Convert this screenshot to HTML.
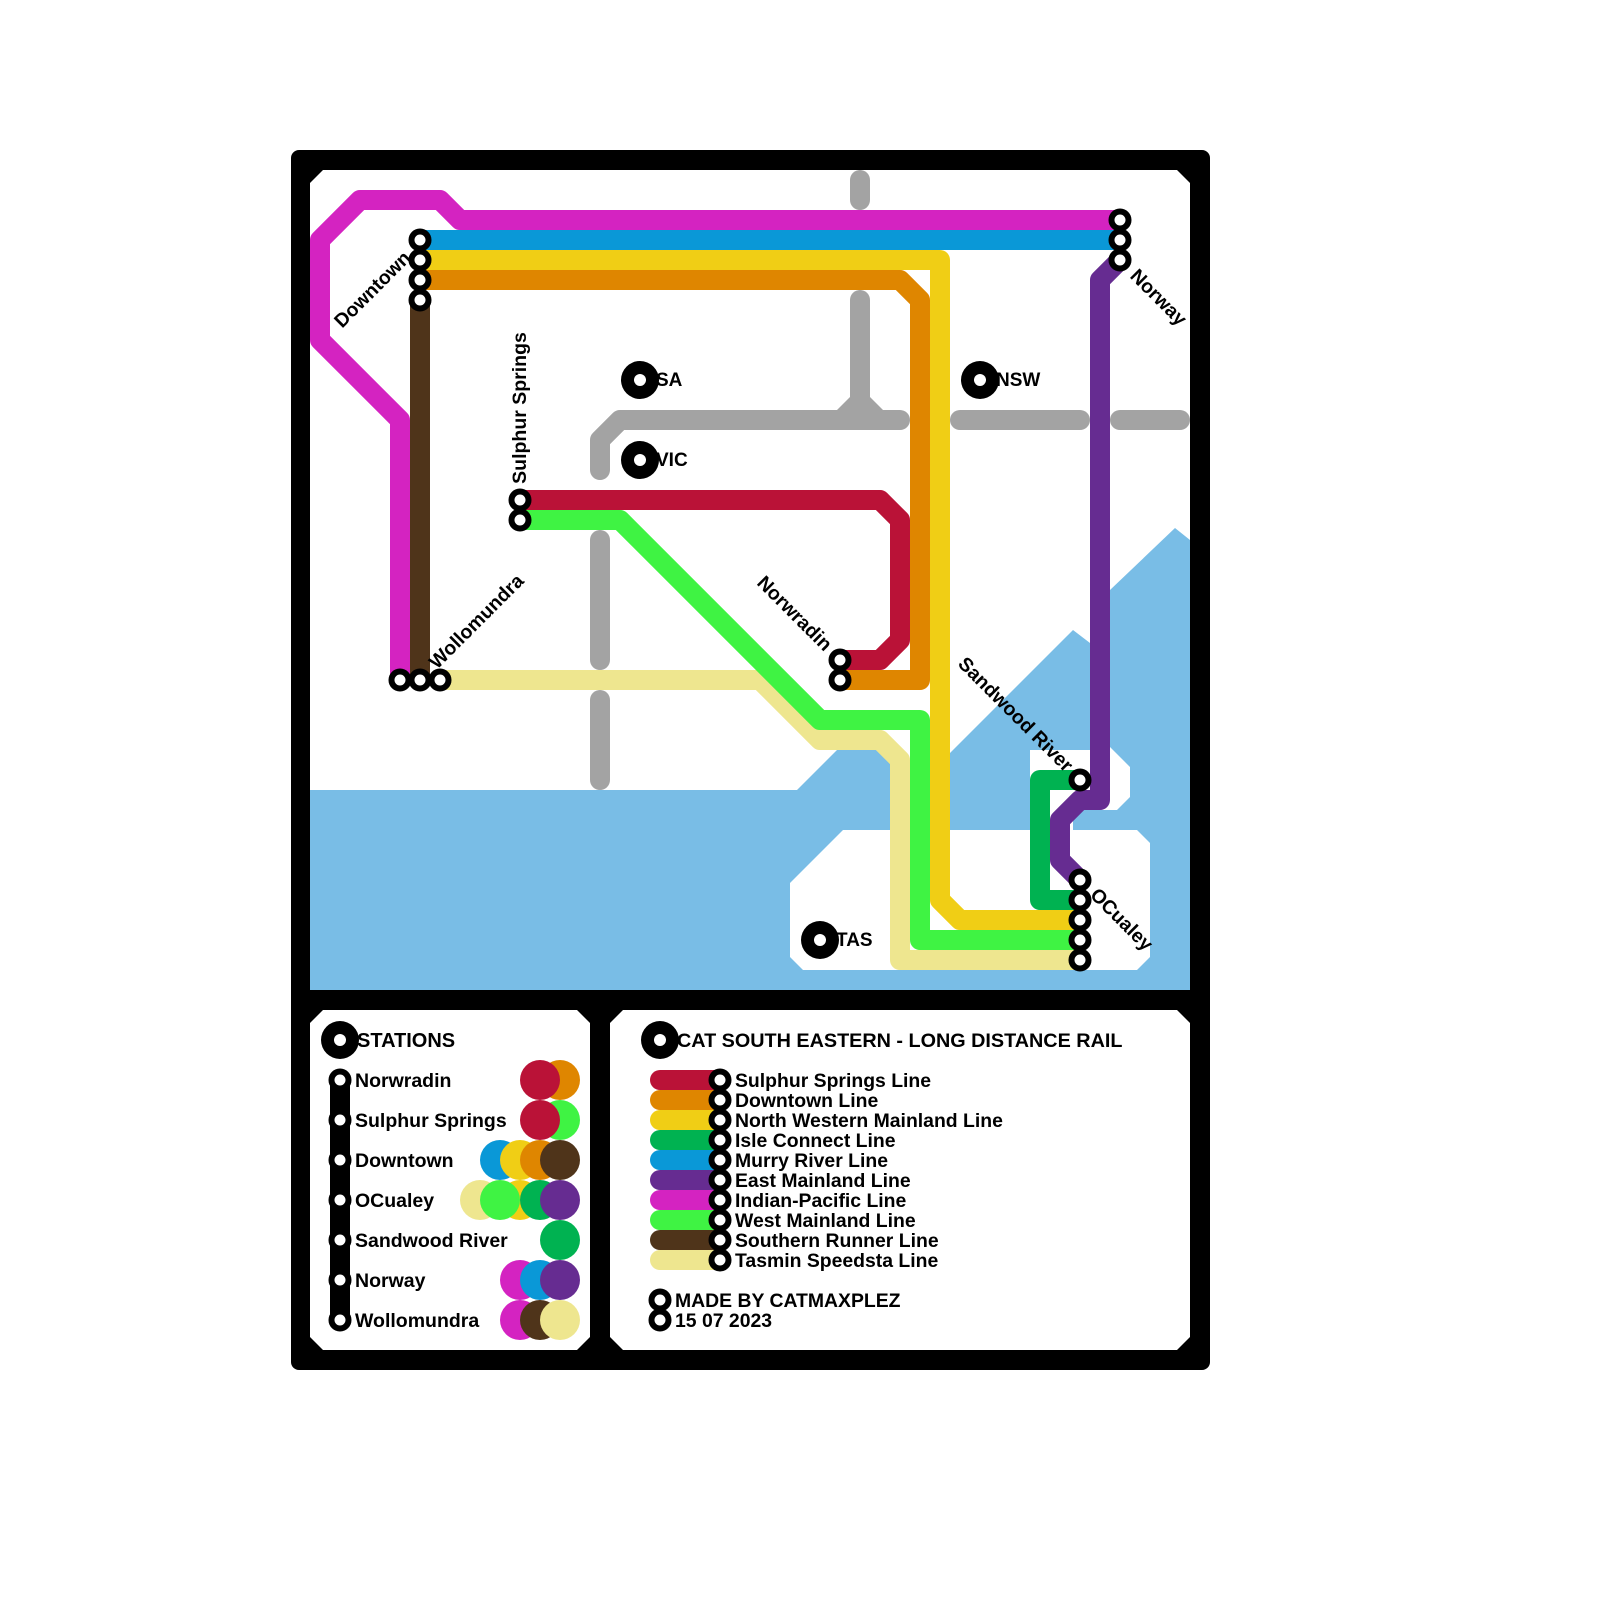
<!DOCTYPE html>
<html><head><meta charset="utf-8"><style>
html,body{margin:0;padding:0;background:#fff;}
svg{display:block}
text{font-family:"Liberation Sans",Arial,sans-serif;font-weight:bold;fill:#000}
</style></head><body>
<svg width="1600" height="1600" viewBox="0 0 1600 1600" xmlns="http://www.w3.org/2000/svg">
<rect x="291" y="150" width="919" height="1220" rx="8" fill="#000"/>
<polygon points="323,170 1177,170 1190,183 1190,990 310,990 310,183" fill="#fff"/>
<polygon points="323,1010 577,1010 590,1023 590,1337 577,1350 323,1350 310,1337 310,1023" fill="#fff"/>
<polygon points="623,1010 1177,1010 1190,1023 1190,1337 1177,1350 623,1350 610,1337 610,1023" fill="#fff"/>

<g fill="#79BDE6">
<polygon points="310,790 797,790 837,750 877,750 890,763 890,830 310,830"/>
<rect x="310" y="830" width="880" height="160"/>
<polygon points="950,830 950,753 1073,630 1090,643 1090,750 1030,750 1030,830"/>
<polygon points="1110,590 1175,528 1190,540 1190,830 1073,830 1073,810 1117,810 1130,797 1130,767 1110,747"/>
</g>
<polygon points="843,830 1137,830 1150,843 1150,957 1137,970 803,970 790,957 790,883" fill="#fff"/>

<g stroke="#A3A3A3" stroke-width="20" stroke-linecap="round" stroke-linejoin="round" fill="none">
<line x1="860" y1="180" x2="860" y2="200"/>
<line x1="860" y1="300" x2="860" y2="415"/>
<path d="M600,470 V440 L620,420 H900"/>
<line x1="960" y1="420" x2="1080" y2="420"/>
<line x1="1120" y1="420" x2="1180" y2="420"/>
<line x1="600" y1="540" x2="600" y2="660"/>
<line x1="600" y1="700" x2="600" y2="780"/>
</g>
<polygon points="837,410 850,397 870,397 883,410" fill="#A3A3A3"/>

<g stroke-width="20" stroke-linejoin="round" stroke-linecap="butt" fill="none">
<path d="M1120,220 H460 L440,200 H360 L320,240 V340 L400,420 V680" stroke="#D423C1"/>
<path d="M420,240 H1120" stroke="#0A98D7"/>
<path d="M420,260 H940 V900 L960,920 H1080" stroke="#F0CE15"/>
<path d="M420,280 H900 L920,300 V680 H840" stroke="#DF8600"/>
<path d="M420,300 V680" stroke="#4F341A"/>
<path d="M520,500 H880 L900,520 V640 L880,660 H840" stroke="#BA1237"/>
<path d="M440,680 H760 L820,740 H880 L900,760 V960 H1080" stroke="#EEE68F"/>
<path d="M520,520 H620 L820,720 H920 V940 H1080" stroke="#3FF343"/>
<path d="M1080,780 H1040 V900 H1080" stroke="#00B251"/>
<path d="M1120,260 L1100,280 V800 H1080 L1060,820 V860 L1080,880" stroke="#662C91"/>
</g>

<g fill="#fff" stroke="#000" stroke-width="6">
<circle cx="420" cy="240" r="8.5"/><circle cx="420" cy="260" r="8.5"/><circle cx="420" cy="280" r="8.5"/><circle cx="420" cy="300" r="8.5"/>
<circle cx="1120" cy="220" r="8.5"/><circle cx="1120" cy="240" r="8.5"/><circle cx="1120" cy="260" r="8.5"/>
<circle cx="520" cy="500" r="8.5"/><circle cx="520" cy="520" r="8.5"/>
<circle cx="400" cy="680" r="8.5"/><circle cx="420" cy="680" r="8.5"/><circle cx="440" cy="680" r="8.5"/>
<circle cx="840" cy="660" r="8.5"/><circle cx="840" cy="680" r="8.5"/>
<circle cx="1080" cy="780" r="8.5"/>
<circle cx="1080" cy="880" r="8.5"/><circle cx="1080" cy="900" r="8.5"/><circle cx="1080" cy="920" r="8.5"/><circle cx="1080" cy="940" r="8.5"/><circle cx="1080" cy="960" r="8.5"/>
</g>
<g fill="#000"><circle cx="640" cy="380" r="19"/><circle cx="640" cy="460" r="19"/><circle cx="980" cy="380" r="19"/><circle cx="820" cy="940" r="19"/></g>
<g fill="#fff"><circle cx="640" cy="380" r="6"/><circle cx="640" cy="460" r="6"/><circle cx="980" cy="380" r="6"/><circle cx="820" cy="940" r="6"/></g>
<g font-size="19">
<text x="656" y="386">SA</text><text x="656" y="466">VIC</text><text x="996" y="386">NSW</text><text x="836" y="946">TAS</text>
</g>
<g font-size="19.5" text-anchor="middle">
<text transform="translate(372,289) rotate(-45)" dy="7">Downtown</text>
<text transform="translate(519,408) rotate(-90)" dy="7">Sulphur Springs</text>
<text transform="translate(1159,297) rotate(45)" dy="7">Norway</text>
<text transform="translate(476,621) rotate(-45)" dy="7">Wollomundra</text>
<text transform="translate(795,613) rotate(45)" dy="7">Norwradin</text>
<text transform="translate(1016,714) rotate(45)" dy="7">Sandwood River</text>
<text transform="translate(1122,919) rotate(45)" dy="7">OCualey</text>
</g>

<circle cx="340" cy="1040" r="19" fill="#000"/><circle cx="340" cy="1040" r="6" fill="#fff"/>
<text x="357" y="1047" font-size="20">STATIONS</text>
<rect x="330" y="1080" width="20" height="240" fill="#000"/>
<g fill="#fff" stroke="#000" stroke-width="6">
<circle cx="340" cy="1080" r="8.5"/><circle cx="340" cy="1120" r="8.5"/><circle cx="340" cy="1160" r="8.5"/><circle cx="340" cy="1200" r="8.5"/><circle cx="340" cy="1240" r="8.5"/><circle cx="340" cy="1280" r="8.5"/><circle cx="340" cy="1320" r="8.5"/>
</g>
<g font-size="19.5">
<text x="355" y="1087">Norwradin</text>
<text x="355" y="1127">Sulphur Springs</text>
<text x="355" y="1167">Downtown</text>
<text x="355" y="1207">OCualey</text>
<text x="355" y="1247">Sandwood River</text>
<text x="355" y="1287">Norway</text>
<text x="355" y="1327">Wollomundra</text>
</g>
<g>
<circle cx="560" cy="1080" r="20" fill="#DF8600"/><circle cx="540" cy="1080" r="20" fill="#BA1237"/>
<circle cx="560" cy="1120" r="20" fill="#3FF343"/><circle cx="540" cy="1120" r="20" fill="#BA1237"/>
<circle cx="500" cy="1160" r="20" fill="#0A98D7"/><circle cx="520" cy="1160" r="20" fill="#F0CE15"/><circle cx="540" cy="1160" r="20" fill="#DF8600"/><circle cx="560" cy="1160" r="20" fill="#4F341A"/>
<circle cx="480" cy="1200" r="20" fill="#EEE68F"/><circle cx="520" cy="1200" r="20" fill="#F0CE15"/><circle cx="500" cy="1200" r="20" fill="#3FF343"/><circle cx="540" cy="1200" r="20" fill="#00B251"/><circle cx="560" cy="1200" r="20" fill="#662C91"/>
<circle cx="560" cy="1240" r="20" fill="#00B251"/>
<circle cx="520" cy="1280" r="20" fill="#D423C1"/><circle cx="540" cy="1280" r="20" fill="#0A98D7"/><circle cx="560" cy="1280" r="20" fill="#662C91"/>
<circle cx="520" cy="1320" r="20" fill="#D423C1"/><circle cx="540" cy="1320" r="20" fill="#4F341A"/><circle cx="560" cy="1320" r="20" fill="#EEE68F"/>
</g>

<circle cx="660" cy="1040" r="19" fill="#000"/><circle cx="660" cy="1040" r="6" fill="#fff"/>
<text x="677" y="1047" font-size="19.8">CAT SOUTH EASTERN - LONG DISTANCE RAIL</text>
<g stroke-width="20" stroke-linecap="round">
<line x1="660" y1="1080" x2="720" y2="1080" stroke="#BA1237"/>
<line x1="660" y1="1100" x2="720" y2="1100" stroke="#DF8600"/>
<line x1="660" y1="1120" x2="720" y2="1120" stroke="#F0CE15"/>
<line x1="660" y1="1140" x2="720" y2="1140" stroke="#00B251"/>
<line x1="660" y1="1160" x2="720" y2="1160" stroke="#0A98D7"/>
<line x1="660" y1="1180" x2="720" y2="1180" stroke="#662C91"/>
<line x1="660" y1="1200" x2="720" y2="1200" stroke="#D423C1"/>
<line x1="660" y1="1220" x2="720" y2="1220" stroke="#3FF343"/>
<line x1="660" y1="1240" x2="720" y2="1240" stroke="#4F341A"/>
<line x1="660" y1="1260" x2="720" y2="1260" stroke="#EEE68F"/>
</g>
<g fill="#fff" stroke="#000" stroke-width="6">
<circle cx="720" cy="1080" r="8.5"/><circle cx="720" cy="1100" r="8.5"/><circle cx="720" cy="1120" r="8.5"/><circle cx="720" cy="1140" r="8.5"/><circle cx="720" cy="1160" r="8.5"/><circle cx="720" cy="1180" r="8.5"/><circle cx="720" cy="1200" r="8.5"/><circle cx="720" cy="1220" r="8.5"/><circle cx="720" cy="1240" r="8.5"/><circle cx="720" cy="1260" r="8.5"/>
<circle cx="660" cy="1300" r="8.5"/><circle cx="660" cy="1320" r="8.5"/>
</g>
<g font-size="19.4">
<text x="735" y="1087">Sulphur Springs Line</text>
<text x="735" y="1107">Downtown Line</text>
<text x="735" y="1127">North Western Mainland Line</text>
<text x="735" y="1147">Isle Connect Line</text>
<text x="735" y="1167">Murry River Line</text>
<text x="735" y="1187">East Mainland Line</text>
<text x="735" y="1207">Indian-Pacific Line</text>
<text x="735" y="1227">West Mainland Line</text>
<text x="735" y="1247">Southern Runner Line</text>
<text x="735" y="1267">Tasmin Speedsta Line</text>
<text x="675" y="1307">MADE BY CATMAXPLEZ</text>
<text x="675" y="1327">15 07 2023</text>
</g>
</svg>
</body></html>
